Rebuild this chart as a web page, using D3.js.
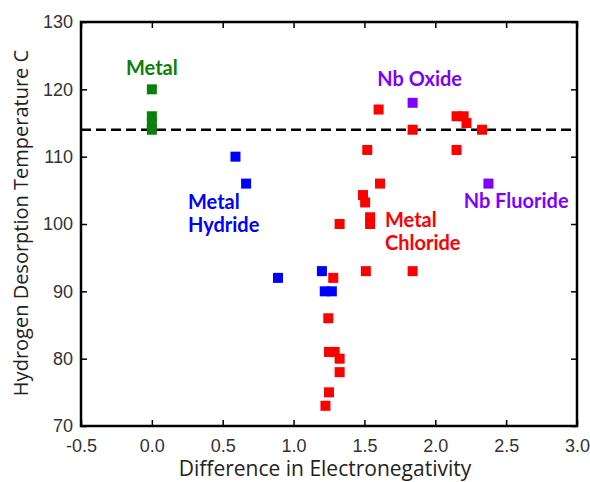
<!DOCTYPE html>
<html>
<head>
<meta charset="utf-8">
<script src="https://cdn.jsdelivr.net/npm/d3@7"></script>
<style>
  body { margin: 0; background: #fff; }
  .tick text { font-family: "Liberation Sans", Arial, sans-serif; font-size: 18px; fill: #333; }
  .axis path, .axis line { stroke: #000; }
</style>
</head>
<body>
<svg width="590" height="482"></svg>
<script>
// difference in electronegativity / desorption temperature
var metalX = [0, 0, 0, 0];
var metalY = [120, 116, 115, 114];
var hydrideX = [0.59, 0.665, 0.89, 1.20, 1.22, 1.27];
var hydrideY = [110, 106, 92, 93, 90, 90];
var chlorideX = [1.60, 1.84, 2.15, 2.20, 2.22, 2.33, 1.52, 2.15, 1.61, 1.49, 1.505, 1.54, 1.54, 1.325,
                 1.51, 1.84, 1.28, 1.245, 1.25, 1.29, 1.325, 1.325, 1.25, 1.225];
var chlorideY = [117, 114, 116, 116, 115, 114, 111, 111, 106, 104.3, 103.2, 101, 100, 100,
                 93, 93, 92, 86, 81, 81, 80, 78, 75, 73];
var nbX = [1.84, 2.375];
var nbY = [118, 106];
var threshold = 114;

var xTicks = [-0.5, 0, 0.5, 1.0, 1.5, 2.0, 2.5, 3.0];
var yTicks = [70, 80, 90, 100, 110, 120, 130];

var groups = [
  {name: "metal", color: "#0a800a", xs: metalX, ys: metalY},
  {name: "hydride", color: "#0000ff", xs: hydrideX, ys: hydrideY},
  {name: "chloride", color: "#ff0000", xs: chlorideX, ys: chlorideY},
  {name: "nb", color: "#8000ff", xs: nbX, ys: nbY}
];

// text labels in data units
var labels = [
  {lines: ["Metal"], x: 0, y: 122.1, anchor: "middle", color: "#0a800a"},
  {lines: ["Metal", "Hydride"], x: 0.255, y: 102.2, anchor: "start", color: "#0000ff"},
  {lines: ["Metal", "Chloride"], x: 1.645, y: 99.6, anchor: "start", color: "#ff0000"},
  {lines: ["Nb Oxide"], x: 1.59, y: 120.5, anchor: "start", color: "#8000ff"},
  {lines: ["Nb Fluoride"], x: 2.20, y: 102.4, anchor: "start", color: "#8000ff"}
];

var svg = d3.select("svg"),
    margin = {top: 22, right: 13, bottom: 56, left: 81},
    width = +svg.attr("width") - margin.left - margin.right,
    height = +svg.attr("height") - margin.top - margin.bottom,
    g = svg.append("g").attr("transform", "translate(" + margin.left + "," + margin.top + ")");

var x = d3.scaleLinear().domain([-0.5, 3.0]).range([0, width]);
var y = d3.scaleLinear().domain([70, 130]).range([height, 0]);

var fmtX = function(d) { return d3.format(".1f")(d).replace("\u2212", "-"); };

g.append("g").attr("class", "axis")
    .attr("transform", "translate(0," + height + ")")
    .call(d3.axisBottom(x).tickValues(xTicks).tickFormat(fmtX).tickSizeInner(-6).tickSizeOuter(0).tickPadding(13));

g.append("g").attr("class", "axis")
    .call(d3.axisTop(x).tickValues(xTicks).tickFormat("").tickSizeInner(-6).tickSizeOuter(0));

g.append("g").attr("class", "axis")
    .call(d3.axisLeft(y).tickValues(yTicks).tickSizeInner(-6).tickSizeOuter(0).tickPadding(8));

g.append("g").attr("class", "axis")
    .attr("transform", "translate(" + width + ",0)")
    .call(d3.axisRight(y).tickValues(yTicks).tickFormat("").tickSizeInner(-6).tickSizeOuter(0));

g.selectAll(".axis line").attr("stroke-width", 1.5);
g.selectAll(".axis path").remove();

g.append("rect")
    .attr("width", width).attr("height", height)
    .attr("fill", "none").attr("stroke", "#000").attr("stroke-width", 2.5);

g.append("line")
    .attr("x1", 0).attr("x2", width)
    .attr("y1", y(threshold)).attr("y2", y(threshold))
    .attr("stroke", "#000").attr("stroke-width", 2.5)
    .attr("stroke-dasharray", "10,5");

var s = 10;
groups.forEach(function(grp) {
  g.selectAll(".pt-" + grp.name)
    .data(grp.xs.map(function(v, i) { return {x: v, y: grp.ys[i]}; }))
    .enter().append("rect")
      .attr("class", "pt-" + grp.name)
      .attr("x", function(d) { return x(d.x) - s / 2; })
      .attr("y", function(d) { return y(d.y) - s / 2; })
      .attr("width", s).attr("height", s)
      .attr("fill", grp.color);
});

labels.forEach(function(l) {
  var t = g.append("text")
      .attr("x", x(l.x)).attr("y", y(l.y))
      .attr("text-anchor", l.anchor)
      .attr("fill", l.color)
      .style("font-family", "Lato, 'Open Sans', sans-serif")
      .style("font-weight", "bold")
      .style("font-size", "20px");
  l.lines.forEach(function(line, i) {
    t.append("tspan").attr("x", x(l.x)).attr("dy", i ? 23 : 0).text(line);
  });
});

svg.append("text")
    .attr("x", 325).attr("y", 476)
    .attr("text-anchor", "middle")
    .style("font-family", "'Open Sans', sans-serif").style("font-size", "21px").attr("fill", "#222")
    .text("Difference in Electronegativity");

svg.append("text")
    .attr("transform", "translate(28,223) rotate(-90)")
    .attr("text-anchor", "middle")
    .style("font-family", "'Open Sans', sans-serif").style("font-size", "20px").attr("fill", "#222")
    .text("Hydrogen Desorption Temperature C");
</script>
</body>
</html>
